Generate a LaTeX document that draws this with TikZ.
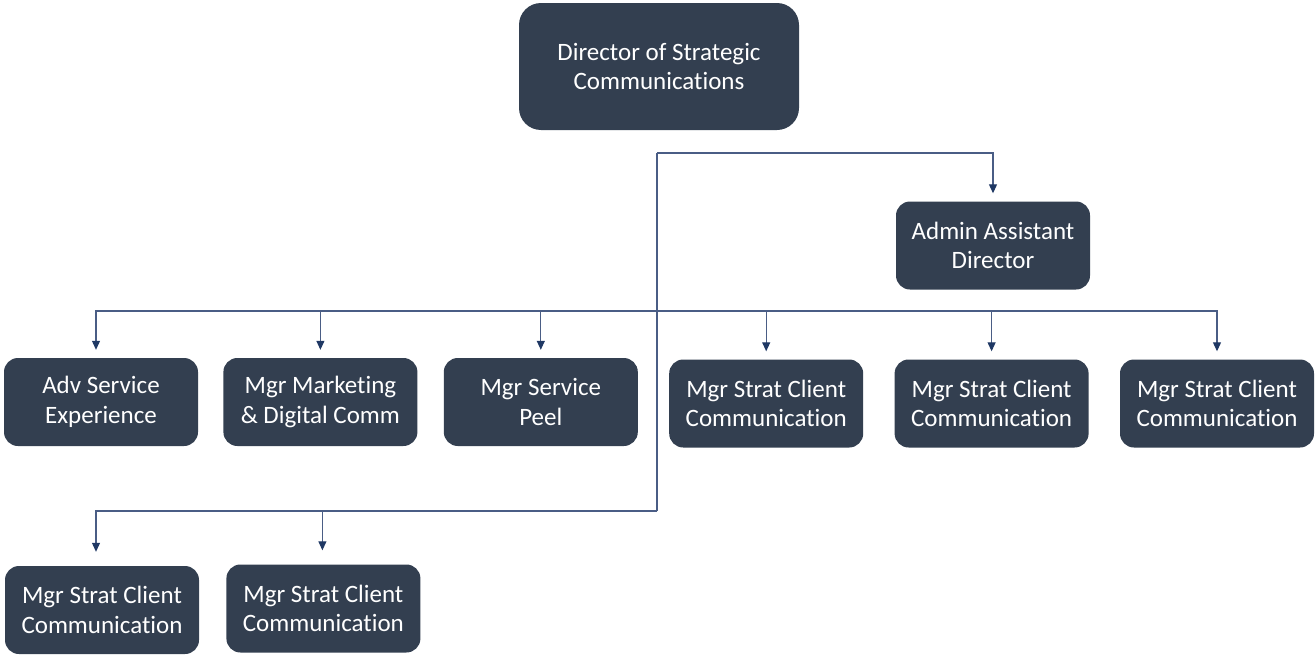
\documentclass[tikz,border=0pt]{standalone}
\usepackage{fontspec}
\setmainfont{Carlito}[Ligatures={NoCommon,NoContextual}]
\usetikzlibrary{arrows.meta,positioning}
\definecolor{boxfill}{HTML}{333F50}
\definecolor{wire}{HTML}{4A5D85}
\definecolor{tipcol}{HTML}{1F3864}
\tikzset{
  unit/.style={fill=boxfill,rounded corners=14pt,minimum width=194pt,minimum height=88pt,
    inner sep=0pt,align=center,text=white,font=\fontsize{25}{29.5}\selectfont},
  head/.style={unit,minimum width=280pt,minimum height=127pt,rounded corners=22pt},
  link/.style={draw=wire,line width=1.1pt},
  feed/.style={link,-{Triangle[length=9pt,width=8pt,color=tipcol]}}
}

\begin{document}
\begin{tikzpicture}[x=1pt,y=-1pt]
\useasboundingbox (0,0) rectangle (1315,656);

\node[head] (dir) at (659,66.5) {Director of Strategic\\Communications};
\node[unit] (admin) at (993,245.5) {Admin Assistant\\Director};

% first row of reports
\node[unit] (adv) at (101,402) {Adv Service\\Experience};
\node[unit, right=25pt of adv] (mkt) {Mgr Marketing\\\& Digital Comm};
\node[unit, right=26pt of mkt] (peel) {Mgr Service\\Peel};
\node[unit, right=31pt of peel, yshift=-1.5pt] (sca) {Mgr Strat Client\\Communication};
\node[unit, right=31pt of sca] (scb) {Mgr Strat Client\\Communication};
\node[unit, right=31pt of scb] (scc) {Mgr Strat Client\\Communication};

% second row
\node[unit] (scd) at (102,610) {Mgr Strat Client\\Communication};
\node[unit, right=27pt of scd, yshift=1.5pt] (sce) {Mgr Strat Client\\Communication};

\coordinate (trunk) at (657,153);
\coordinate (busa) at (657,311);
\coordinate (busb) at (657,511);

\draw[link] (trunk) -- (busb);
\draw[feed] (trunk) -| ([yshift=8pt]admin.north);
\draw[feed] (busa) -| ([xshift=-5pt,yshift=8pt]adv.north);
\foreach \n in {mkt,peel,sca,scb,scc}
  \draw[feed] (busa) -| ([yshift=8pt]\n.north);
\draw[feed] (busb) -| ([xshift=-6pt,yshift=14pt]scd.north);
\draw[feed] (busb) -| ([xshift=-1pt,yshift=14pt]sce.north);

\end{tikzpicture}
\end{document}
